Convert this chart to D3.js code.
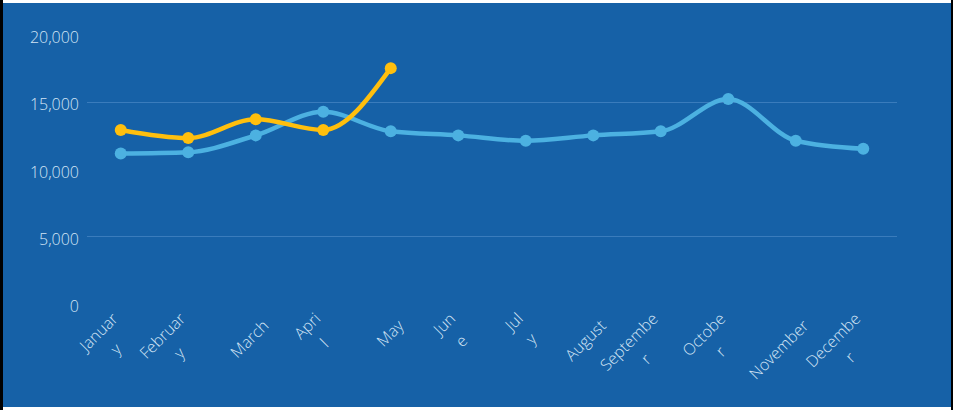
<!DOCTYPE html>
<html>
<head>
<meta charset="utf-8">
<script src="https://cdn.jsdelivr.net/npm/d3@7"></script>
<style>
	html, body { margin: 0; padding: 0; background: #fff; }
	svg { display: block; }
	.axis-label { font-family: "Open Sans", sans-serif; font-weight: 300; fill: #d3e4f5; }
</style>
</head>
<body>
<div id="chart"></div>
<script>
const months = ["January", "February", "March", "April", "May", "June", "July",
	"August", "September", "October", "November", "December"];

// labels as they are wrapped in the chart
const tickLabels = [["Januar", "y"], ["Februar", "y"], ["March"], ["Apri", "l"], ["May"], ["Jun", "e"],
	["Jul", "y"], ["August"], ["Septembe", "r"], ["Octobe", "r"], ["November"], ["Decembe", "r"]];

const seriesBlue = [11150, 11250, 12500, 14250, 12800, 12500, 12100, 12500, 12800, 15200, 12100, 11500];
const seriesYellow = [12900, 12300, 13700, 12900, 17500];

const yTicks = [0, 5000, 10000, 15000, 20000];

const width = 953, height = 410;
const margin = {top: 34.5, right: 56, bottom: 106.5, left: 87};

const svg = d3.select("#chart").append("svg")
	.attr("width", width)
	.attr("height", height);

// frame
svg.append("rect").attr("x", 0).attr("y", 0).attr("width", width).attr("height", height).attr("fill", "#000");
svg.append("rect").attr("x", 3).attr("y", 0).attr("width", 948).attr("height", height).attr("fill", "#fff");
svg.append("rect").attr("x", 3).attr("y", 3).attr("width", 948).attr("height", 404).attr("fill", "#1661a7");

const x = d3.scaleBand()
	.domain(months)
	.range([margin.left, width - margin.right]);

const y = d3.scaleLinear()
	.domain([0, 20000])
	.range([height - margin.bottom, margin.top]);

const xc = m => x(m) + x.bandwidth() / 2;

// grid (only every other line shows)
svg.append("g")
	.selectAll("line")
	.data(yTicks.filter(t => (t / 5000) % 2 == 1))
	.join("line")
	.attr("x1", margin.left)
	.attr("x2", width - margin.right)
	.attr("y1", d => Math.round(y(d)) + 0.5)
	.attr("y2", d => Math.round(y(d)) + 0.5)
	.attr("stroke", "#3a7cbc")
	.attr("stroke-width", 1);

// y labels
svg.append("g")
	.selectAll("text")
	.data(yTicks)
	.join("text")
	.attr("class", "axis-label")
	.attr("x", 79)
	.attr("y", d => y(d) + 8.5)
	.attr("text-anchor", "end")
	.style("font-size", "16px")
	.text(d => d3.format(",")(d));

// x labels, rotated, lines centred
const lineH = 24;
const xLab = svg.append("g")
	.selectAll("g")
	.data(months)
	.join("g")
	.attr("transform", m => `translate(${xc(m) + 11},324) rotate(-45)`);

xLab.each(function(m, i) {
	const lines = tickLabels[i];
	const multi = lines.length > 1;
	const t = d3.select(this).append("text")
		.attr("class", "axis-label")
		.attr("text-anchor", "middle")
		.style("font-size", "16px");
	const spans = t.selectAll("tspan")
		.data(lines)
		.join("tspan")
		.text(d => d);
	const w = d3.max(spans.nodes(), n => n.getComputedTextLength());
	spans
		.attr("x", -w / 2 - (multi ? 6 : 0))
		.attr("y", (d, j) => (j - (lines.length - 1) / 2) * lineH + (multi ? 0 : 4));
});

const line = d3.line()
	.x((d, i) => xc(months[i]))
	.y(d => y(d))
	.curve(d3.curveMonotoneX);

function drawSeries(values, color) {
	const g = svg.append("g");
	g.append("path")
		.datum(values)
		.attr("d", line)
		.attr("fill", "none")
		.attr("stroke", color)
		.attr("stroke-width", 4.5)
		.attr("stroke-linejoin", "round");
	g.selectAll("circle")
		.data(values)
		.join("circle")
		.attr("cx", (d, i) => xc(months[i]))
		.attr("cy", d => y(d))
		.attr("r", 6)
		.attr("fill", color);
}

drawSeries(seriesBlue, "#4cb1e1");
drawSeries(seriesYellow, "#ffbf0d");
</script>
</body>
</html>
